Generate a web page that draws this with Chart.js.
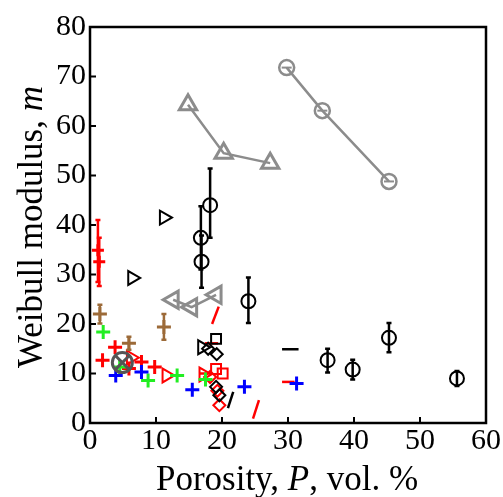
<!DOCTYPE html>
<html><head><meta charset="utf-8">
<script src="https://cdn.jsdelivr.net/npm/chart.js@4.4.0/dist/chart.umd.min.js"></script>
<style>html,body{margin:0;padding:0;background:#fff;}#wrap{width:503px;height:497px;}</style>
</head><body><div id="wrap"><canvas id="c" width="503" height="497"></canvas></div>
<script>
// ---- axis ranges / ticks ----
const xRange = [0, 60], xStep = 10;
const yRange = [0, 80], yStep = 10;
// titles: [text, italic?] pieces
const xTitleParts = [['Porosity, ', false], ['P', true], [', vol. %', false]];
const yTitleParts = [['Weibull modulus, ', false], ['m', true]];

// ---- data (porosity P, Weibull modulus m) ----
const grayCircP = [29.8, 35.2, 45.3];
const grayCircM = [71.8, 63.1, 48.8];
const grayTriUpP = [14.85, 20.25, 27.3];
const grayTriUpM = [64.3, 54.5, 52.5];
const grayTriLeftP = [12.6, 15.4, 19.1];
const grayTriLeftM = [24.9, 23.4, 25.9];
const grayXCircP = [4.9];
const grayXCircM = [12.2];

const blackCircP  = [16.8, 16.9, 18.2, 24.0, 36.0, 39.8, 45.3, 55.6];
const blackCircM  = [37.4, 32.6, 44.0, 24.6, 12.7, 10.8, 17.2, 9.0];
const blackCircLo = [31.0, 27.3, 37.4, 20.2, 10.2, 8.8, 14.3, 7.5];
const blackCircHi = [43.8, 37.9, 51.4, 29.4, 15.0, 12.8, 20.2, 10.5];

const redErrP  = [1.2, 1.4];
const redErrM  = [34.9, 32.6];
const redErrLo = [28.5, 27.7];
const redErrHi = [41.0, 37.4];

const brownP  = [1.5, 5.9, 11.2];
const brownM  = [22.0, 16.1, 19.4];
const brownLo = [20.1, 14.8, 16.8];
const brownHi = [23.9, 17.4, 22.0];

const redPlusP = [1.9, 3.8, 5.9, 7.8, 9.8];
const redPlusM = [12.7, 15.3, 11.0, 12.3, 11.3];
const greenPlusP = [2.0, 4.5, 8.8, 13.2, 17.5];
const greenPlusM = [18.4, 11.3, 8.6, 9.6, 8.8];
const bluePlusP = [3.9, 7.8, 15.5, 23.4, 31.3];
const bluePlusM = [9.6, 10.3, 6.7, 7.3, 8.0];

const blackTriRightP = [11.2, 6.4, 17.0];
const blackTriRightM = [41.5, 29.3, 15.3];
const redTriRightP = [6.2, 11.6, 17.2];
const redTriRightM = [13.2, 9.6, 9.8];

const blackSqP = [19.1];
const blackSqM = [17.0];
const redSqP = [19.1, 20.1];
const redSqM = [10.9, 10.0];
const blackDiaP = [17.9, 19.2, 19.1, 19.6];
const blackDiaM = [15.0, 13.9, 7.3, 5.6];
const redDiaP = [18.2, 19.3, 19.6];
const redDiaM = [9.3, 6.5, 3.6];

// short line segments: start/end
const redSegP1 = [18.5, 17.4, 16.6, 29.1, 24.7];
const redSegM1 = [20.0, 16.1, 10.0, 8.3, 0.9];
const redSegP2 = [19.5, 19.4, 18.4, 31.0, 25.6];
const redSegM2 = [23.5, 16.1, 10.0, 8.3, 4.6];
const blackSegP1 = [29.1, 20.9];
const blackSegM1 = [14.9, 3.0];
const blackSegP2 = [31.6, 21.7];
const blackSegM2 = [14.9, 6.3];

// ---- helpers ----
const pts = (xs, ys) => xs.map((v, i) => ({x: v, y: ys[i]}));
const RED = '#ff0000', GREEN = '#22ee22', BLUE = '#0000ff', BROWN = '#9c6a38', GRAY = '#8c8c8c', DGRAY = '#555555';
function markers(xs, ys, style, color, r, lw, extra) {
  return Object.assign({
    data: pts(xs, ys), pointStyle: style, pointRadius: r, pointHoverRadius: r,
    borderColor: color, pointBorderColor: color, backgroundColor: 'rgba(0,0,0,0)',
    pointBackgroundColor: 'rgba(0,0,0,0)', pointBorderWidth: lw, showLine: false, clip: false
  }, extra || {});
}
function segments(x1, y1, x2, y2, color) {
  return x1.map((v, i) => ({
    type: 'line', data: [{x: v, y: y1[i]}, {x: x2[i], y: y2[i]}],
    borderColor: color, borderWidth: 2.5, pointRadius: 0, showLine: true, clip: false
  }));
}

const datasets = [
  markers(grayXCircP, grayXCircM, 'circle', DGRAY, 10, 3),
  markers(grayXCircP, grayXCircM, 'crossRot', DGRAY, 10, 3),
  markers(blackCircP, blackCircM, 'circle', '#000', 7, 2, {errLo: blackCircLo, errHi: blackCircHi, errColor: '#000'}),
  markers(redErrP, redErrM, 'cross', RED, 6, 3, {errLo: redErrLo, errHi: redErrHi, errColor: RED}),
  markers(brownP, brownM, 'cross', BROWN, 7, 3, {errLo: brownLo, errHi: brownHi, errColor: BROWN}),
  markers(bluePlusP, bluePlusM, 'cross', BLUE, 7, 3),
  markers(greenPlusP, greenPlusM, 'cross', GREEN, 7, 3),
  markers(redPlusP, redPlusM, 'cross', RED, 7, 3),
  markers(blackTriRightP, blackTriRightM, 'triangle', '#000', 8, 2, {pointRotation: 90}),
  markers(redTriRightP, redTriRightM, 'triangle', RED, 8, 2, {pointRotation: 90}),
  markers(blackSqP, blackSqM, 'rect', '#000', 7, 2),
  markers(redSqP, redSqM, 'rect', RED, 7, 2),
  markers(blackDiaP, blackDiaM, 'rectRot', '#000', 6, 2),
  markers(redDiaP, redDiaM, 'rectRot', RED, 6, 2),
  markers(grayCircP, grayCircM, 'circle', GRAY, 7.5, 2.5, {showLine: true, borderWidth: 2.5}),
  markers(grayCircP, grayCircM, 'line', GRAY, 5, 2),
  markers(grayTriUpP, grayTriUpM, 'triangle', GRAY, 10, 3, {showLine: true, borderWidth: 2.5}),
  markers(grayTriLeftP, grayTriLeftM, 'triangle', GRAY, 10, 3, {showLine: true, borderWidth: 2.5, pointRotation: -90}),
  ...segments(redSegP1, redSegM1, redSegP2, redSegM2, RED),
  ...segments(blackSegP1, blackSegM1, blackSegP2, blackSegM2, '#000')
];

const errorBars = {
  id: 'errorBars',
  afterDatasetsDraw(chart) {
    const {ctx, scales: {x, y}} = chart;
    chart.data.datasets.forEach(ds => {
      if (!ds.errLo) return;
      ctx.save();
      ctx.strokeStyle = ds.errColor; ctx.lineWidth = 2.5; ctx.lineCap = 'butt';
      ds.data.forEach((p, i) => {
        const px = x.getPixelForValue(p.x);
        const lo = y.getPixelForValue(ds.errLo[i]);
        const hi = y.getPixelForValue(ds.errHi[i]);
        ctx.beginPath();
        ctx.moveTo(px, lo); ctx.lineTo(px, hi);
        ctx.moveTo(px - 2.5, lo); ctx.lineTo(px + 2.5, lo);
        ctx.moveTo(px - 2.5, hi); ctx.lineTo(px + 2.5, hi);
        ctx.stroke();
      });
      ctx.restore();
    });
  }
};

const SERIF = '"Liberation Serif", "Times New Roman", Times, serif';
const TITLE_SIZE = 35;

function drawParts(ctx, parts, size) {
  const fonts = parts.map(p => (p[1] ? 'italic ' : '') + size + 'px ' + SERIF);
  const widths = parts.map((p, i) => { ctx.font = fonts[i]; return ctx.measureText(p[0]).width; });
  const total = widths.reduce((a, b) => a + b, 0);
  let cx = -total / 2;
  parts.forEach((p, i) => { ctx.font = fonts[i]; ctx.fillText(p[0], cx, 0); cx += widths[i]; });
}

const frame = {
  id: 'frame',
  afterDraw(chart) {
    const {ctx, chartArea: a, scales: {x, y}} = chart;
    ctx.save();
    ctx.strokeStyle = '#000'; ctx.lineWidth = 2.5;
    ctx.strokeRect(a.left, a.top, a.right - a.left, a.bottom - a.top);
    ctx.lineWidth = 2;
    ctx.beginPath();
    x.ticks.forEach(t => { const px = x.getPixelForValue(t.value); ctx.moveTo(px, a.bottom); ctx.lineTo(px, a.bottom - 6); });
    y.ticks.forEach(t => { const py = y.getPixelForValue(t.value); ctx.moveTo(a.left, py); ctx.lineTo(a.left + 6, py); });
    ctx.stroke();
    // axis titles with italic symbols
    ctx.fillStyle = '#000'; ctx.textAlign = 'left'; ctx.textBaseline = 'alphabetic';
    ctx.save(); ctx.translate((a.left + a.right) / 2 - 1, 490); drawParts(ctx, xTitleParts, TITLE_SIZE); ctx.restore();
    ctx.save(); ctx.translate(42, (a.top + a.bottom) / 2 + 2); ctx.rotate(-Math.PI / 2); drawParts(ctx, yTitleParts, TITLE_SIZE); ctx.restore();
    ctx.restore();
  }
};

new Chart(document.getElementById('c'), {
  type: 'scatter',
  data: {datasets},
  options: {
    responsive: false, animation: false, devicePixelRatio: 1,
    layout: {padding: {top: 27, right: 17, left: 0, bottom: 0}},
    plugins: {legend: {display: false}, tooltip: {enabled: false}},
    scales: {
      x: {
        type: 'linear', min: xRange[0], max: xRange[1],
        ticks: {stepSize: xStep, color: '#000', font: {family: SERIF, size: 30}, padding: 0, maxRotation: 0},
        grid: {display: false, drawTicks: false}, border: {display: false},
        title: {display: false},
        afterFit(s) { s.height = 74; }
      },
      y: {
        type: 'linear', min: yRange[0], max: yRange[1],
        ticks: {stepSize: yStep, color: '#000', font: {family: SERIF, size: 30}, padding: 4},
        grid: {display: false, drawTicks: false}, border: {display: false},
        title: {display: false},
        afterFit(s) { s.width = 90; }
      }
    }
  },
  plugins: [errorBars, frame]
});
</script></body></html>
